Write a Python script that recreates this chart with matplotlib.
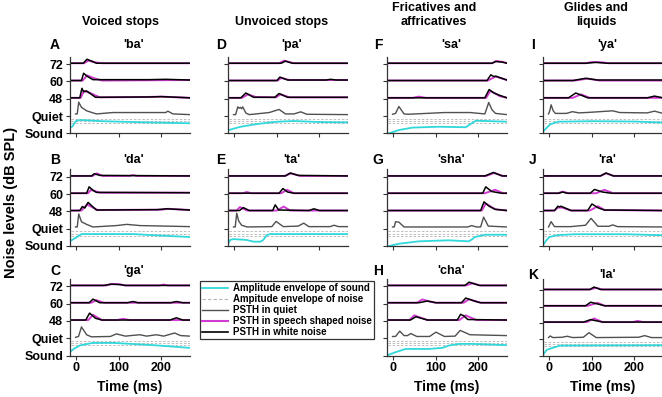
import matplotlib
matplotlib.use('Agg')
import matplotlib.pyplot as plt
from matplotlib.lines import Line2D

plt.rcParams['font.family'] = ['Liberation Sans', 'DejaVu Sans']
plt.rcParams['font.weight'] = 'bold'

# ---------------- data: (time ms, offset above track baseline) ----------------
level_labels = ['Sound', 'Quiet', '48', '60', '72']
time_ticks = [0, 100, 200]
noise_env_levels = [0.6, 0.72, 0.85]
column_headers = ['Voiced stops', 'Unvoiced stops', 'Fricatives and\naffricatives', 'Glides and\nliquids']

# 'ba'
ba_sound = [(-14, 0.35), (-9, 0.4), (-4, 0.6), (0, 0.73), (10, 0.77), (60, 0.7), (150, 0.64), (267, 0.58)]
ba_quiet = [(-2, 0.12), (2, 0.12), (5.5, 0.8), (12, 0.5), (24, 0.3), (47, 0.12), (86, 0.2), (210, 0.2), (215, 0.28), (227, 0.12), (267, 0.08)]
ba_48w = [(-12, 0.05), (8, 0.05), (13, 0.6), (17, 0.4), (24, 0.45), (45, 0.08), (170, 0.1), (200, 0.12), (267, 0.05)]
ba_48s = [(-12, 0.05), (10, 0.05), (18, 0.45), (30, 0.35), (55, 0.08), (170, 0.1), (200, 0.12), (267, 0.05)]
ba_60w = [(-12, 0.05), (12, 0.05), (17, 0.47), (25, 0.3), (39, 0.1), (170, 0.1), (210, 0.12), (267, 0.08)]
ba_60s = [(-12, 0.05), (15, 0.05), (25, 0.35), (40, 0.2), (60, 0.05), (267, 0.08)]
ba_72w = [(-12, 0.05), (16, 0.05), (25, 0.28), (35, 0.18), (47, 0.05), (267, 0.05)]
ba_72s = [(-12, 0.05), (18, 0.05), (28, 0.2), (45, 0.1), (60, 0.05), (267, 0.05)]

# 'da'
da_sound = [(-14, 0.29), (0, 0.5), (12, 0.69), (133, 0.69), (200, 0.6), (267, 0.52)]
da_quiet = [(-2, 0.1), (2, 0.1), (5.5, 0.85), (12, 0.4), (24, 0.25), (39, 0.1), (94, 0.18), (118, 0.25), (150, 0.18), (267, 0.12)]
da_48w = [(-12, 0.05), (8, 0.05), (14, 0.28), (20, 0.2), (27.5, 0.52), (47, 0.08), (190, 0.1), (212, 0.15), (267, 0.08)]
da_48s = [(-12, 0.05), (12, 0.05), (25, 0.4), (50, 0.08), (200, 0.1), (215, 0.15), (267, 0.08)]
da_60w = [(-12, 0.05), (24, 0.05), (30, 0.42), (40, 0.2), (47, 0.1), (267, 0.08)]
da_60s = [(-12, 0.05), (27, 0.05), (35, 0.25), (55, 0.08), (267, 0.08)]
da_72w = [(-12, 0.05), (36, 0.05), (42, 0.18), (55, 0.08), (267, 0.05)]
da_72s = [(-12, 0.05), (38, 0.05), (48, 0.2), (62, 0.05), (125, 0.05), (133, 0.1), (142, 0.05), (267, 0.05)]

# 'ga'
ga_sound = [(-16, 0.19), (-5, 0.4), (8, 0.58), (39, 0.73), (86, 0.73), (180, 0.6), (267, 0.44)]
ga_quiet = [(-2, 0.05), (5, 0.1), (12, 0.65), (24, 0.2), (35, 0.08), (80, 0.1), (94, 0.25), (115, 0.12), (149, 0.2), (165, 0.12), (188, 0.2), (205, 0.12), (231, 0.3), (245, 0.15), (267, 0.12)]
ga_48w = [(-12, 0.05), (22, 0.05), (31, 0.45), (45, 0.15), (60, 0.05), (220, 0.05), (235, 0.18), (250, 0.05), (267, 0.05)]
ga_48s = [(-12, 0.05), (28, 0.05), (39, 0.35), (60, 0.05), (95, 0.05), (110, 0.12), (125, 0.05), (267, 0.05)]
ga_60w = [(-12, 0.05), (30, 0.05), (39, 0.26), (55, 0.05), (120, 0.05), (133, 0.12), (145, 0.05), (222, 0.05), (235, 0.12), (250, 0.05), (267, 0.05)]
ga_60s = [(-12, 0.05), (35, 0.05), (47, 0.2), (65, 0.05), (267, 0.05)]
ga_72w = [(-12, 0.05), (65, 0.05), (80, 0.12), (102, 0.1), (115, 0.05), (267, 0.05)]
ga_72s = [(-12, 0.05), (70, 0.05), (85, 0.14), (100, 0.12), (115, 0.05), (195, 0.05), (205, 0.1), (215, 0.05), (267, 0.05)]

# 'pa'
pa_sound = [(-13, 0.19), (0, 0.28), (15, 0.38), (54, 0.54), (101, 0.67), (140, 0.71), (200, 0.65), (267, 0.63)]
pa_quiet = [(-2, 0.08), (3, 0.08), (8, 0.53), (11, 0.45), (14, 0.5), (17, 0.42), (19.5, 0.53), (27, 0.17), (35, 0.08), (82, 0.2), (105, 0.38), (120, 0.12), (140, 0.12), (156, 0.24), (170, 0.1), (267, 0.08)]
pa_48w = [(-12, 0.05), (15, 0.05), (27, 0.33), (45, 0.08), (95, 0.08), (105, 0.3), (125, 0.08), (267, 0.08)]
pa_48s = [(-12, 0.05), (18, 0.05), (32, 0.25), (50, 0.1), (98, 0.08), (108, 0.25), (130, 0.08), (267, 0.08)]
pa_60w = [(-12, 0.05), (100, 0.05), (107, 0.25), (125, 0.08), (215, 0.08), (226, 0.12), (240, 0.08), (267, 0.08)]
pa_60s = [(-12, 0.05), (102, 0.05), (110, 0.2), (130, 0.08), (267, 0.08)]
pa_72w = [(-12, 0.05), (110, 0.05), (120, 0.17), (136, 0.05), (267, 0.05)]
pa_72s = [(-12, 0.05), (105, 0.05), (117, 0.2), (140, 0.05), (267, 0.05)]

# 'ta'
ta_sound = [(-16, 0.06), (-10, 0.35), (-2, 0.4), (29, 0.35), (45, 0.25), (61, 0.25), (68, 0.35), (76, 0.63), (84, 0.69), (267, 0.69)]
ta_quiet = [(-2, 0.1), (2, 0.1), (5.5, 0.9), (10, 0.45), (17, 0.2), (30, 0.1), (88, 0.12), (98, 0.42), (115, 0.12), (150, 0.15), (163, 0.32), (175, 0.12), (225, 0.12), (234, 0.2), (245, 0.12), (267, 0.12)]
ta_48w = [(-12, 0.05), (12, 0.05), (21, 0.22), (35, 0.05), (90, 0.05), (96, 0.38), (104, 0.08), (175, 0.05), (187, 0.15), (200, 0.05), (267, 0.05)]
ta_48s = [(-12, 0.05), (5, 0.05), (13, 0.25), (30, 0.05), (100, 0.05), (116, 0.28), (131, 0.05), (267, 0.05)]
ta_60w = [(-12, 0.05), (105, 0.05), (114, 0.32), (125, 0.12), (140, 0.05), (267, 0.05)]
ta_60s = [(-12, 0.05), (20, 0.05), (29, 0.12), (40, 0.05), (110, 0.05), (124, 0.25), (140, 0.05), (267, 0.05)]
ta_72w = [(-12, 0.05), (120, 0.05), (131, 0.22), (150, 0.08), (267, 0.05)]
ta_72s = [(-12, 0.05), (118, 0.05), (133, 0.2), (155, 0.05), (267, 0.05)]

# 'sa'
sa_sound = [(-10, 0.0), (13, 0.19), (45, 0.33), (107, 0.38), (170, 0.35), (178, 0.48), (194, 0.73), (267, 0.67)]
sa_quiet = [(-2, 0.1), (5, 0.15), (13, 0.55), (25, 0.12), (35, 0.1), (120, 0.2), (180, 0.2), (215, 0.12), (224, 0.78), (232, 0.35), (240, 0.15), (267, 0.08)]
sa_48w = [(-12, 0.05), (215, 0.05), (225, 0.53), (235, 0.35), (249, 0.2), (267, 0.05)]
sa_48s = [(-12, 0.05), (45, 0.05), (60, 0.12), (76, 0.05), (218, 0.05), (228, 0.45), (250, 0.15), (267, 0.05)]
sa_60w = [(-12, 0.05), (220, 0.05), (229, 0.38), (236, 0.28), (241, 0.3), (264, 0.1), (267, 0.08)]
sa_60s = [(-12, 0.05), (222, 0.05), (240, 0.28), (267, 0.08)]
sa_72w = [(-12, 0.05), (232, 0.05), (240, 0.15), (255, 0.12), (267, 0.05)]
sa_72s = [(-12, 0.05), (232, 0.05), (242, 0.18), (258, 0.12), (267, 0.05)]

# 'sha'
sha_sound = [(-10, 0.0), (13, 0.13), (60, 0.27), (130, 0.33), (177, 0.27), (184, 0.37), (192, 0.52), (216, 0.65), (267, 0.65)]
sha_quiet = [(-2, 0.1), (2, 0.1), (5, 0.4), (13, 0.38), (25, 0.1), (175, 0.1), (184, 0.18), (195, 0.1), (205, 0.1), (212, 0.67), (223, 0.15), (267, 0.1)]
sha_48w = [(-12, 0.05), (205, 0.05), (213, 0.55), (225, 0.3), (239, 0.12), (267, 0.05)]
sha_48s = [(-12, 0.05), (208, 0.05), (217, 0.45), (240, 0.12), (267, 0.05)]
sha_60w = [(-12, 0.05), (210, 0.05), (217, 0.42), (231, 0.15), (254, 0.05), (267, 0.05)]
sha_60s = [(-12, 0.05), (215, 0.05), (239, 0.25), (258, 0.05), (267, 0.05)]
sha_72w = [(-12, 0.05), (215, 0.05), (235, 0.25), (255, 0.05), (267, 0.05)]
sha_72s = [(-12, 0.05), (218, 0.05), (237, 0.22), (258, 0.05), (267, 0.05)]

# 'cha'
cha_sound = [(-16, 0.0), (5, 0.19), (29, 0.38), (84, 0.38), (115, 0.44), (131, 0.58), (155, 0.67), (186, 0.67), (267, 0.6)]
cha_quiet = [(-2, 0.1), (5, 0.1), (15, 0.41), (25, 0.15), (33, 0.15), (41, 0.27), (55, 0.1), (85, 0.1), (100, 0.35), (120, 0.1), (145, 0.12), (157, 0.45), (180, 0.2), (267, 0.15)]
cha_48w = [(-12, 0.05), (40, 0.05), (53, 0.24), (80, 0.05), (150, 0.05), (158, 0.38), (165, 0.3), (175, 0.08), (267, 0.05)]
cha_48s = [(-12, 0.05), (38, 0.05), (49, 0.32), (80, 0.05), (155, 0.05), (170, 0.32), (195, 0.05), (267, 0.05)]
cha_60w = [(-12, 0.05), (60, 0.05), (80, 0.15), (100, 0.05), (160, 0.05), (170, 0.32), (190, 0.15), (205, 0.05), (267, 0.05)]
cha_60s = [(-12, 0.05), (55, 0.05), (68, 0.24), (85, 0.12), (100, 0.05), (165, 0.05), (178, 0.25), (205, 0.05), (267, 0.05)]
cha_72w = [(-12, 0.05), (168, 0.05), (178, 0.24), (202, 0.05), (267, 0.05)]
cha_72s = [(-12, 0.05), (170, 0.05), (186, 0.17), (205, 0.05), (267, 0.05)]

# 'ya'
ya_sound = [(-15, 0.1), (-5, 0.35), (2, 0.52), (20, 0.67), (100, 0.7), (200, 0.68), (267, 0.62)]
ya_quiet = [(-2, 0.12), (1, 0.3), (4, 0.65), (9, 0.3), (14, 0.15), (40, 0.15), (54, 0.25), (70, 0.18), (100, 0.22), (149, 0.3), (165, 0.2), (230, 0.18), (247, 0.28), (267, 0.15)]
ya_48w = [(-12, 0.05), (45, 0.05), (62, 0.33), (90, 0.05), (230, 0.05), (247, 0.15), (267, 0.05)]
ya_48s = [(-12, 0.05), (55, 0.05), (74, 0.25), (95, 0.05), (267, 0.05)]
ya_60w = [(-12, 0.05), (55, 0.05), (85, 0.18), (113, 0.08), (267, 0.08)]
ya_60s = [(-12, 0.05), (60, 0.05), (90, 0.16), (118, 0.05), (267, 0.05)]
ya_72w = [(-12, 0.05), (85, 0.05), (110, 0.1), (135, 0.05), (267, 0.05)]
ya_72s = [(-12, 0.05), (85, 0.05), (100, 0.12), (125, 0.1), (140, 0.05), (267, 0.05)]

# 'ra'
ra_sound = [(-16, 0.0), (-8, 0.3), (0, 0.52), (20, 0.63), (60, 0.68), (180, 0.68), (267, 0.62)]
ra_quiet = [(-2, 0.1), (1, 0.25), (4, 0.41), (12, 0.12), (50, 0.12), (85, 0.2), (98, 0.6), (114, 0.14), (140, 0.14), (149, 0.22), (160, 0.12), (267, 0.1)]
ra_48w = [(-12, 0.05), (12, 0.05), (20, 0.3), (24, 0.26), (27, 0.3), (51, 0.05), (90, 0.05), (100, 0.43), (115, 0.2), (129, 0.08), (267, 0.05)]
ra_48s = [(-12, 0.05), (12, 0.05), (20, 0.22), (30, 0.22), (51, 0.05), (95, 0.05), (114, 0.3), (130, 0.08), (267, 0.05)]
ra_60w = [(-12, 0.05), (22, 0.05), (31, 0.12), (42, 0.05), (96, 0.05), (106, 0.27), (125, 0.12), (145, 0.05), (267, 0.05)]
ra_60s = [(-12, 0.05), (20, 0.05), (31, 0.14), (45, 0.05), (110, 0.05), (129, 0.25), (150, 0.05), (267, 0.05)]
ra_72w = [(-12, 0.05), (120, 0.05), (133, 0.22), (150, 0.05), (267, 0.05)]
ra_72s = [(-12, 0.05), (120, 0.05), (133, 0.2), (152, 0.05), (267, 0.05)]

# 'la'
la_sound = [(-16, 0.0), (-6, 0.35), (10, 0.49), (26, 0.61), (267, 0.63)]
la_quiet = [(-2, 0.1), (2, 0.2), (8, 0.1), (30, 0.12), (42, 0.18), (55, 0.1), (80, 0.12), (93, 0.4), (110, 0.1), (210, 0.12), (224, 0.22), (240, 0.1), (267, 0.1)]
la_48w = [(-12, 0.05), (80, 0.05), (97, 0.2), (125, 0.05), (267, 0.05)]
la_48s = [(-12, 0.05), (88, 0.05), (105, 0.27), (125, 0.05), (195, 0.05), (208, 0.12), (220, 0.05), (267, 0.05)]
la_60w = [(-12, 0.05), (85, 0.05), (97, 0.27), (115, 0.15), (130, 0.05), (267, 0.05)]
la_60s = [(-12, 0.05), (90, 0.05), (113, 0.23), (130, 0.05), (267, 0.05)]
la_72w = [(-12, 0.05), (95, 0.05), (105, 0.2), (120, 0.05), (267, 0.05)]
la_72s = [(-12, 0.05), (95, 0.05), (110, 0.15), (125, 0.05), (267, 0.05)]

# panel list: letter, syllable, column, row, traces
panels = [
    ('A', "'ba'", 0, 0, ba_sound, ba_quiet, [(ba_48w, ba_48s), (ba_60w, ba_60s), (ba_72w, ba_72s)]),
    ('B', "'da'", 0, 1, da_sound, da_quiet, [(da_48w, da_48s), (da_60w, da_60s), (da_72w, da_72s)]),
    ('C', "'ga'", 0, 2, ga_sound, ga_quiet, [(ga_48w, ga_48s), (ga_60w, ga_60s), (ga_72w, ga_72s)]),
    ('D', "'pa'", 1, 0, pa_sound, pa_quiet, [(pa_48w, pa_48s), (pa_60w, pa_60s), (pa_72w, pa_72s)]),
    ('E', "'ta'", 1, 1, ta_sound, ta_quiet, [(ta_48w, ta_48s), (ta_60w, ta_60s), (ta_72w, ta_72s)]),
    ('F', "'sa'", 2, 0, sa_sound, sa_quiet, [(sa_48w, sa_48s), (sa_60w, sa_60s), (sa_72w, sa_72s)]),
    ('G', "'sha'", 2, 1, sha_sound, sha_quiet, [(sha_48w, sha_48s), (sha_60w, sha_60s), (sha_72w, sha_72s)]),
    ('H', "'cha'", 2, 2, cha_sound, cha_quiet, [(cha_48w, cha_48s), (cha_60w, cha_60s), (cha_72w, cha_72s)]),
    ('I', "'ya'", 3, 0, ya_sound, ya_quiet, [(ya_48w, ya_48s), (ya_60w, ya_60s), (ya_72w, ya_72s)]),
    ('J', "'ra'", 3, 1, ra_sound, ra_quiet, [(ra_48w, ra_48s), (ra_60w, ra_60s), (ra_72w, ra_72s)]),
    ('K', "'la'", 3, 2, la_sound, la_quiet, [(la_48w, la_48s), (la_60w, la_60s), (la_72w, la_72s)]),
]

# ---------------- layout / styles ----------------
W, H = 662, 397
fig = plt.figure(figsize=(W / 100, H / 100), dpi=100)

XMIN, XMAX = -15, 267
col_left = [70, 228, 387, 543]
col_width = 120
row_bottom = [133.3, 246.0, 355.5]
row_top = [56.8, 169.5, 279.0]
letter_x = [55, 221, 378, 533]
title_y = [45, 160, 271]

C_SOUND = '#30d8dc'
C_NOISE = '#b4b4b4'
C_QUIET = '#505050'
C_SPEECH = '#d23cd2'
C_WHITE = '#000000'
C_AXIS = '#333333'


def fx(x):
    return x / W


def fy(y):
    return 1 - y / H


def xy(trace):
    return [p[0] for p in trace], [p[1] for p in trace]


for letter, syl, col, row, sound, quiet, psths in panels:
    left = col_left[col]
    bottom = row_bottom[row]
    top = row_top[row]
    ax = fig.add_axes([fx(left), fy(bottom), col_width / W, (bottom - top) / H])
    unit = 17.3 if letter != 'K' else 16.3
    ax.set_xlim(XMIN, XMAX)
    ax.set_ylim(0, (bottom - top) / unit)

    for lv in noise_env_levels:
        ax.plot([XMIN + 2, XMAX], [lv, lv], color=C_NOISE, lw=0.6, dashes=(3, 2))
    t, v = xy(sound)
    ax.plot(t, v, color=C_SOUND, lw=1.3)
    t, v = xy(quiet)
    ax.plot(t, [1 + a for a in v], color=C_QUIET, lw=1.0)
    for i, (wn, sn) in enumerate(psths):
        base = 2 + i
        t, v = xy(sn)
        ax.plot(t, [base + a for a in v], color=C_SPEECH, lw=1.4)
        t, v = xy(wn)
        ax.plot(t, [base + a for a in v], color=C_WHITE, lw=1.1)

    for s in ['top', 'right']:
        ax.spines[s].set_visible(False)
    for s in ['left', 'bottom']:
        ax.spines[s].set_color(C_AXIS)
        ax.spines[s].set_linewidth(0.9)
    ax.set_xticks(time_ticks)
    ax.set_yticks(range(len(level_labels)))
    ax.tick_params(direction='out', length=3, width=0.8, color=C_AXIS, pad=2)
    if col == 0:
        ax.set_yticklabels(level_labels, fontsize=9, fontweight='bold')
    else:
        ax.set_yticklabels([])
    if row == 2:
        ax.set_xticklabels([str(v) for v in time_ticks], fontsize=9, fontweight='bold')
        ax.set_xlabel('Time (ms)', fontsize=10, fontweight='bold', labelpad=4)
    else:
        ax.set_xticklabels([])

    ty = title_y[row] + (4 if letter == 'K' else 0)
    fig.text(fx(left + col_width / 2 + 4), fy(ty), syl, ha='center', va='center',
             fontsize=9, fontweight='bold')
    fig.text(fx(letter_x[col]), fy(ty), letter, ha='center', va='center',
             fontsize=10, fontweight='bold')

# column headers
header_x = [121, 282, 434, 596]
for hx, txt in zip(header_x, column_headers):
    fig.text(fx(hx), fy(28), txt, ha='center', va='bottom', fontsize=9,
             fontweight='bold', linespacing=1.25)

# y label
fig.text(fx(11), fy(202), 'Noise levels (dB SPL)', rotation=90, ha='center', va='center',
         fontsize=10.5, fontweight='bold')

# legend
handles = [
    Line2D([], [], color=C_SOUND, lw=1.3),
    Line2D([], [], color=C_NOISE, lw=0.8, dashes=(3, 2)),
    Line2D([], [], color=C_QUIET, lw=1.0),
    Line2D([], [], color=C_SPEECH, lw=1.5),
    Line2D([], [], color=C_WHITE, lw=1.2),
]
labels = ['Amplitude envelope of sound', 'Ampitude envelope of noise', 'PSTH in quiet',
          'PSTH in speech shaped noise', 'PSTH in white noise']
leg = fig.legend(handles, labels, loc='upper left', bbox_to_anchor=(fx(200), fy(280.7)),
                 bbox_transform=fig.transFigure, borderaxespad=0,
                 prop={'weight': 'bold', 'size': 7}, frameon=True, fancybox=False,
                 handlelength=2.6, handletextpad=0.5, labelspacing=0.1, borderpad=0.25)
leg.get_frame().set_edgecolor('black')
leg.get_frame().set_linewidth(0.9)

fig.savefig('out.png', dpi=100)
